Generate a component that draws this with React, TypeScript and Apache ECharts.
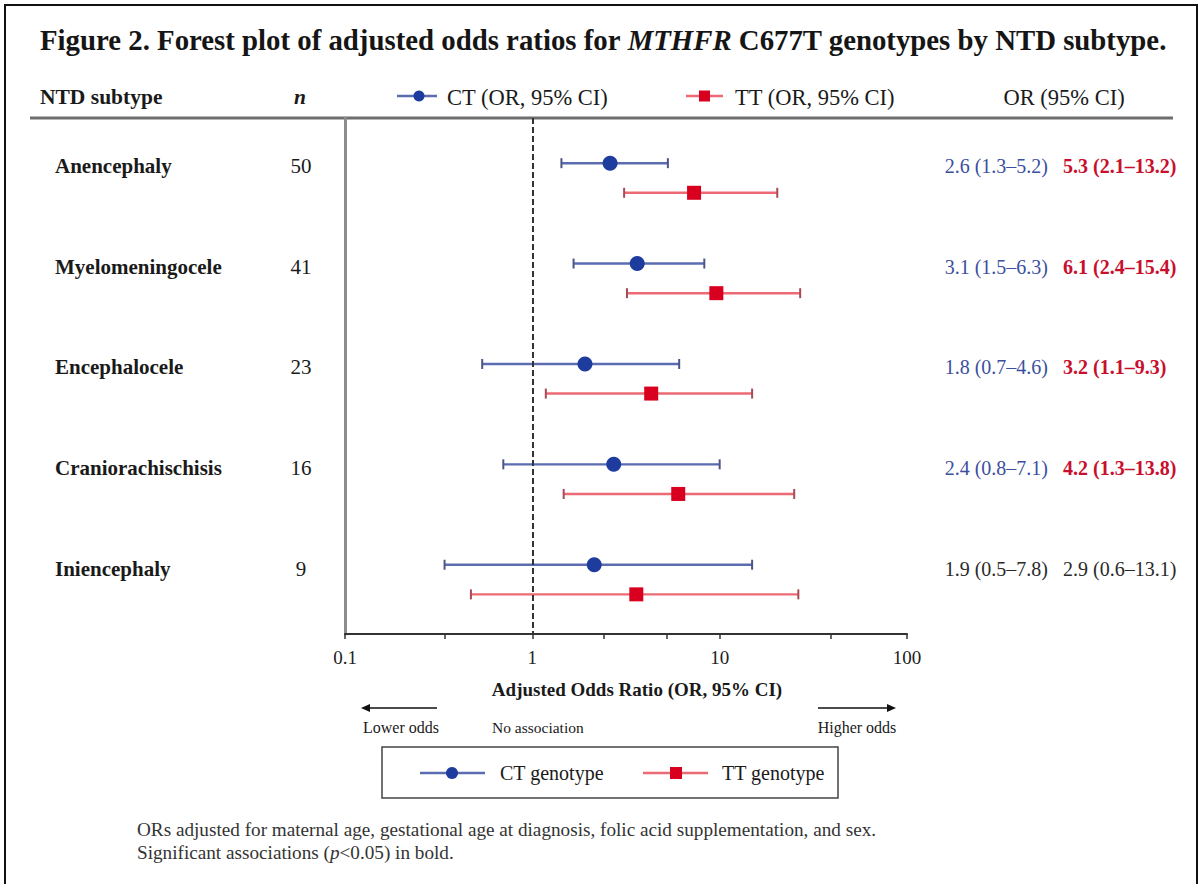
import React, { useEffect, useRef } from 'react';
import * as echarts from 'echarts';

const subtypes = ['Anencephaly', 'Myelomeningocele', 'Encephalocele', 'Craniorachischisis', 'Iniencephaly'];
const nValues = [50, 41, 23, 16, 9];
const ctOR = [2.6, 3.63, 1.91, 2.72, 2.14];
const ctLow = [1.43, 1.66, 0.54, 0.7, 0.34];
const ctHigh = [5.29, 8.28, 6.08, 10.0, 14.9];
const ttOR = [7.3, 9.6, 4.31, 6.01, 3.59];
const ttLow = [3.09, 3.2, 1.18, 1.47, 0.47];
const ttHigh = [20.3, 26.9, 14.9, 25.0, 26.3];
const ctLabels = ['2.6 (1.3–5.2)', '3.1 (1.5–6.3)', '1.8 (0.7–4.6)', '2.4 (0.8–7.1)', '1.9 (0.5–7.8)'];
const ttLabels = ['5.3 (2.1–13.2)', '6.1 (2.4–15.4)', '3.2 (1.1–9.3)', '4.2 (1.3–13.8)', '2.9 (0.6–13.1)'];
const highlighted = [true, true, true, true, false];
const xTickValues = [0.1, 0.34, 1, 2.4, 5.2, 10, 39, 100];
const xLabelValues = [0.1, 1, 10, 100];

const FONT = "'Liberation Serif', 'Times New Roman', serif";
const CT_LINE = '#5b6cb0';
const CT_CAP = '#4a5685';
const CT_MARK = '#1d3c9e';
const TT_LINE = '#ec6a74';
const TT_CAP = '#a84a55';
const TT_MARK = '#d8001e';
const TT_OFFSET = 0.295;

const GRID = { left: 345, right: 907, top: 118, bottom: 634 };

function txt(text: string, x: number, y: number, o: any = {}) {
  return {
    type: 'text',
    x,
    y,
    silent: true,
    style: {
      text,
      fontFamily: FONT,
      fontSize: o.size || 18,
      fontWeight: o.weight || 'normal',
      fontStyle: o.style || 'normal',
      fill: o.color || '#1a1a1a',
      textAlign: o.align || 'left',
      textVerticalAlign: 'middle',
      rich: o.rich,
    },
  };
}

export default function App() {
  const ref = useRef<HTMLDivElement>(null);
  useEffect(() => {
    if (!ref.current) return;
    const chart = echarts.init(ref.current, undefined, { renderer: 'svg' });

    const ctBars = subtypes.map((_, i) => [i, ctLow[i], ctHigh[i]]);
    const ttBars = subtypes.map((_, i) => [i + TT_OFFSET, ttLow[i], ttHigh[i]]);
    const ctPts = subtypes.map((_, i) => [ctOR[i], i]);
    const ttPts = subtypes.map((_, i) => [ttOR[i], i + TT_OFFSET]);

    const barRender = (line: string, cap: string) => (params: any, api: any) => {
      const y = api.value(0);
      const p1 = api.coord([api.value(1), y]);
      const p2 = api.coord([api.value(2), y]);
      const h = 5;
      return {
        type: 'group',
        children: [
          { type: 'line', shape: { x1: p1[0], y1: p1[1], x2: p2[0], y2: p2[1] }, style: { stroke: line, lineWidth: 2.4 } },
          { type: 'line', shape: { x1: p1[0], y1: p1[1] - h, x2: p1[0], y2: p1[1] + h }, style: { stroke: cap, lineWidth: 2 } },
          { type: 'line', shape: { x1: p2[0], y1: p2[1] - h, x2: p2[0], y2: p2[1] + h }, style: { stroke: cap, lineWidth: 2 } },
        ],
      };
    };

    const graphics: any[] = [];
    graphics.push({ type: 'rect', shape: { x: 5, y: 5, width: 1192, height: 900 }, style: { fill: 'none', stroke: '#111', lineWidth: 2 }, silent: true });
    graphics.push(
      txt('{a|Figure 2. Forest plot of adjusted odds ratios for }{b|MTHFR}{a| C677T genotypes by NTD subtype.}', 40, 40, {
        size: 28.8,
        weight: 'bold',
        rich: {
          a: { fontFamily: FONT, fontSize: 28.8, fontWeight: 'bold', fill: '#151515' },
          b: { fontFamily: FONT, fontSize: 28.8, fontWeight: 'bold', fontStyle: 'italic', fill: '#151515' },
        },
      })
    );
    graphics.push(txt('NTD subtype', 40, 97, { size: 21.5, weight: 'bold' }));
    graphics.push(txt('n', 300, 97, { size: 21.5, weight: 'bold', style: 'italic', align: 'center' }));
    graphics.push({ type: 'line', shape: { x1: 397, y1: 96, x2: 437, y2: 96 }, style: { stroke: CT_LINE, lineWidth: 2.4 }, silent: true });
    graphics.push({ type: 'circle', shape: { cx: 419, cy: 96, r: 5.5 }, style: { fill: CT_MARK }, silent: true });
    graphics.push(txt('CT (OR, 95% CI)', 447, 97, { size: 22.5 }));
    graphics.push({ type: 'line', shape: { x1: 686, y1: 96, x2: 723, y2: 96 }, style: { stroke: TT_LINE, lineWidth: 2.4 }, silent: true });
    graphics.push({ type: 'rect', shape: { x: 699, y: 90.5, width: 11, height: 11 }, style: { fill: TT_MARK }, silent: true });
    graphics.push(txt('TT (OR, 95% CI)', 735, 97, { size: 22.5 }));
    graphics.push(txt('OR (95% CI)', 1064, 97, { size: 22.5, align: 'center' }));
    graphics.push({ type: 'line', shape: { x1: 30, y1: 118, x2: 1173, y2: 118 }, style: { stroke: '#6e6e6e', lineWidth: 3 }, silent: true });

    const rowY = [166, 267, 367, 468, 569];
    subtypes.forEach((s, i) => {
      graphics.push(txt(s, 55, rowY[i], { size: 21, weight: 'bold' }));
      graphics.push(txt(String(nValues[i]), 301, rowY[i], { size: 21, align: 'center' }));
      const hl = highlighted[i];
      graphics.push(txt(ctLabels[i], 1048, rowY[i], { size: 20, align: 'right', color: hl ? '#3c4f9e' : '#2a2a2a' }));
      graphics.push(txt(ttLabels[i], 1063, rowY[i], { size: 20, align: 'left', weight: hl ? 'bold' : 'normal', color: hl ? '#c8102e' : '#2a2a2a' }));
    });

    graphics.push(txt('Adjusted Odds Ratio (OR, 95% CI)', 637, 689, { size: 19, weight: 'bold', align: 'center' }));
    graphics.push({ type: 'line', shape: { x1: 368, y1: 708, x2: 437, y2: 708 }, style: { stroke: '#111', lineWidth: 1.6 }, silent: true });
    graphics.push({ type: 'polygon', shape: { points: [[361, 708], [370, 704], [370, 712]] }, style: { fill: '#111' }, silent: true });
    graphics.push({ type: 'line', shape: { x1: 818, y1: 708, x2: 889, y2: 708 }, style: { stroke: '#111', lineWidth: 1.6 }, silent: true });
    graphics.push({ type: 'polygon', shape: { points: [[896, 708], [887, 704], [887, 712]] }, style: { fill: '#111' }, silent: true });
    graphics.push(txt('Lower odds', 401, 727, { size: 16, align: 'center' }));
    graphics.push(txt('No association', 492, 727, { size: 15.5 }));
    graphics.push(txt('Higher odds', 857, 727, { size: 16, align: 'center' }));

    graphics.push({ type: 'rect', shape: { x: 382, y: 747, width: 456, height: 51 }, style: { fill: '#fff', stroke: '#444', lineWidth: 1.5 }, silent: true });
    graphics.push({ type: 'line', shape: { x1: 420, y1: 773, x2: 485, y2: 773 }, style: { stroke: CT_LINE, lineWidth: 2.4 }, silent: true });
    graphics.push({ type: 'circle', shape: { cx: 452, cy: 773, r: 6 }, style: { fill: CT_MARK }, silent: true });
    graphics.push(txt('CT genotype', 500, 773, { size: 20 }));
    graphics.push({ type: 'line', shape: { x1: 643, y1: 773, x2: 708, y2: 773 }, style: { stroke: TT_LINE, lineWidth: 2.4 }, silent: true });
    graphics.push({ type: 'rect', shape: { x: 670, y: 767, width: 12, height: 12 }, style: { fill: TT_MARK }, silent: true });
    graphics.push(txt('TT genotype', 722, 773, { size: 20 }));

    graphics.push(txt('ORs adjusted for maternal age, gestational age at diagnosis, folic acid supplementation, and sex.', 137, 829, { size: 19.2, color: '#333' }));
    graphics.push(
      txt('{a|Significant associations (}{b|p}{a|<0.05) in bold.}', 137, 852, {
        size: 19.2,
        color: '#333',
        rich: {
          a: { fontFamily: FONT, fontSize: 19.2, fill: '#333' },
          b: { fontFamily: FONT, fontSize: 19.2, fontStyle: 'italic', fill: '#333' },
        },
      })
    );

    chart.setOption({
      animation: false,
      backgroundColor: '#ffffff',
      grid: { left: GRID.left, top: GRID.top, width: GRID.right - GRID.left, height: GRID.bottom - GRID.top, containLabel: false },
      xAxis: {
        type: 'log',
        logBase: 10,
        min: 0.1,
        max: 100,
        axisLine: { show: true, onZero: false, lineStyle: { color: '#333', width: 2 } },
        axisTick: { show: true, length: 5, lineStyle: { color: '#333', width: 1.5 }, customValues: xTickValues },
        axisLabel: {
          show: true,
          customValues: xLabelValues,
          margin: 14,
          fontFamily: FONT,
          fontSize: 19,
          color: '#222',
          formatter: (v: number) => String(v),
        },
        splitLine: { show: false },
        minorTick: { show: false },
      },
      yAxis: {
        type: 'value',
        inverse: true,
        min: -0.45,
        max: 4.69,
        axisLine: { show: true, onZero: false, lineStyle: { color: '#8c8c8c', width: 3 } },
        axisTick: { show: false },
        axisLabel: { show: false },
        splitLine: { show: false },
      },
      graphic: graphics,
      series: [
        {
          type: 'custom',
          name: 'CT CI',
          renderItem: barRender(CT_LINE, CT_CAP),
          encode: { x: [1, 2], y: 0 },
          data: ctBars,
          z: 2,
          markLine: {
            silent: true,
            symbol: 'none',
            label: { show: false },
            lineStyle: { color: '#333', width: 2, type: [6, 3] },
            data: [{ xAxis: 1 }],
          },
        },
        {
          type: 'custom',
          name: 'TT CI',
          renderItem: barRender(TT_LINE, TT_CAP),
          encode: { x: [1, 2], y: 0 },
          data: ttBars,
          z: 2,
        },
        {
          type: 'scatter',
          name: 'CT genotype',
          symbol: 'circle',
          symbolSize: 15,
          itemStyle: { color: CT_MARK, opacity: 1 },
          data: ctPts,
          z: 5,
        },
        {
          type: 'scatter',
          name: 'TT genotype',
          symbol: 'rect',
          symbolSize: 14,
          itemStyle: { color: TT_MARK, opacity: 1 },
          data: ttPts,
          z: 5,
        },
      ],
    });
    return () => chart.dispose();
  }, []);
  return <div ref={ref} style={{ position: 'fixed', left: 0, top: 0, width: 1203, height: 884, background: '#fff' }} />;
}
